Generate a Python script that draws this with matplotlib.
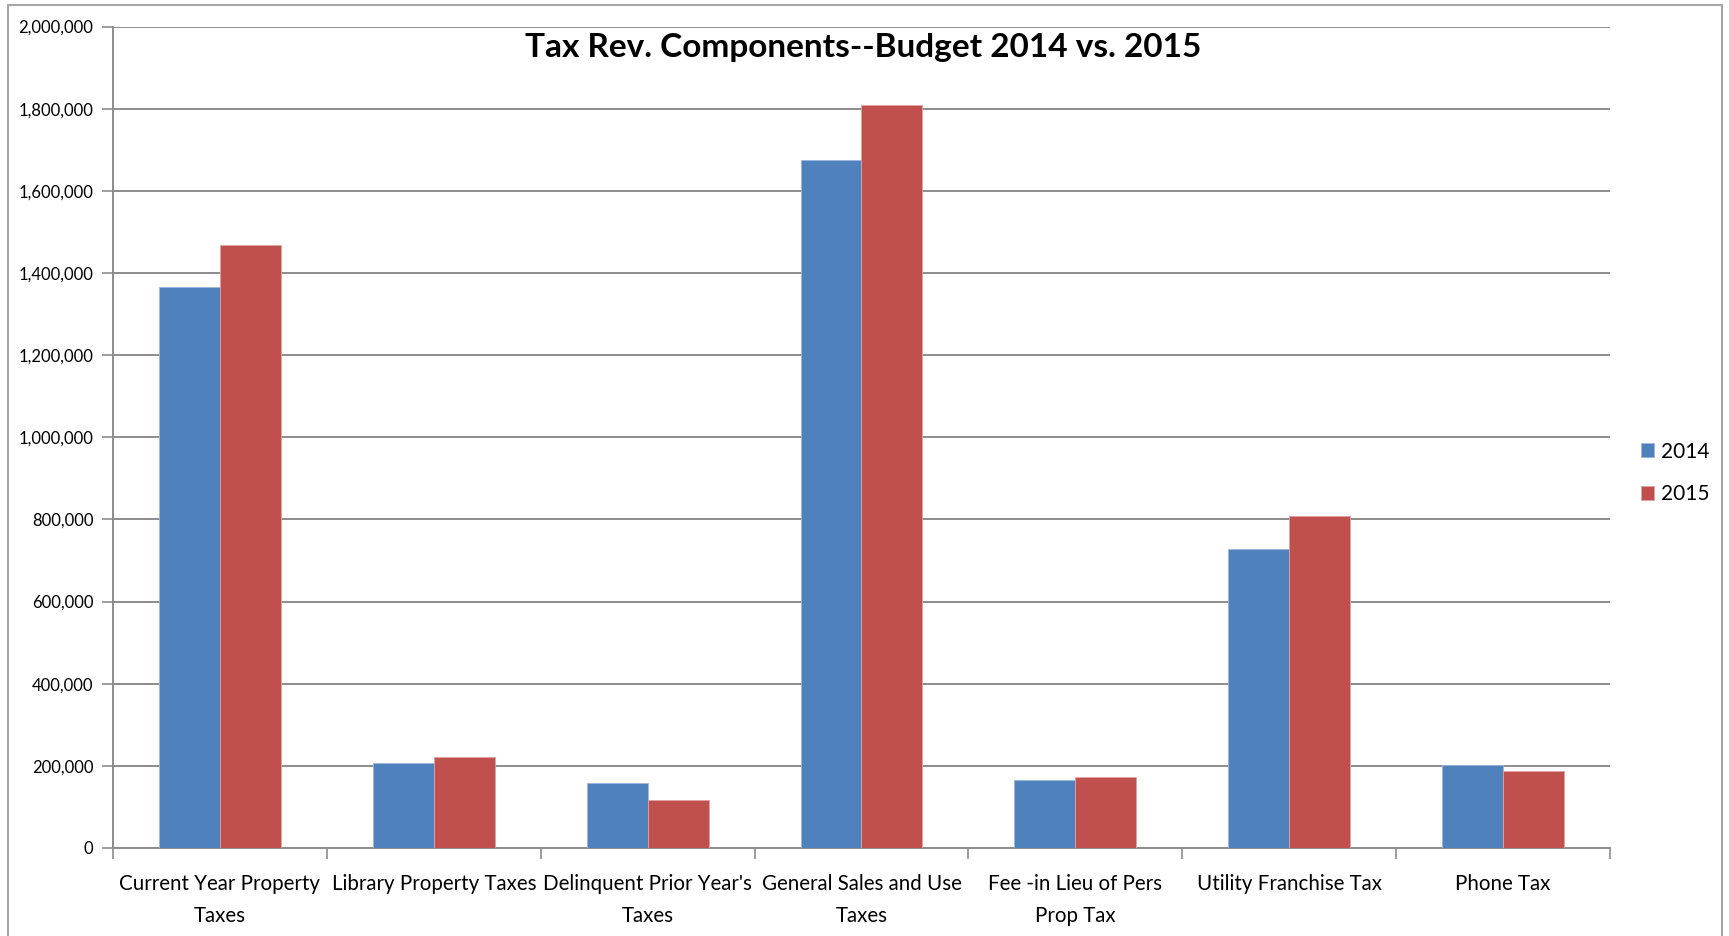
import matplotlib.pyplot as plt
import numpy as np
from matplotlib.patches import Rectangle
from matplotlib.ticker import FuncFormatter

plt.rcParams['font.family'] = ['Lato', 'DejaVu Sans']

categories = ["Current Year Property\nTaxes", "Library Property Taxes",
              "Delinquent Prior Year's\nTaxes", "General Sales and Use\nTaxes",
              "Fee -in Lieu of Pers\nProp Tax", "Utility Franchise Tax", "Phone Tax"]
budget_2014 = [1366000, 206000, 158000, 1675000, 166000, 728000, 202000]
budget_2015 = [1468000, 221000, 116000, 1809000, 172000, 809000, 187000]

fig = plt.figure(figsize=(17.29, 9.36), dpi=100)
ax = fig.add_axes([113/1729, 1 - 848/936, (1610-113)/1729, (848-26.5)/936])

x = np.arange(len(categories))
w = 0.285
ax.bar(x - w/2, budget_2014, w, color='#4F81BD', edgecolor='#9DB7DB', linewidth=0.6, label='2014', zorder=3)
ax.bar(x + w/2, budget_2015, w, color='#C0504D', edgecolor='#E2A3A1', linewidth=0.6, label='2015', zorder=3)

ax.set_xlim(-0.5, len(categories) - 0.5)
ax.set_ylim(0, 2000000)
ax.set_yticks(np.arange(0, 2000001, 200000))
ax.yaxis.set_major_formatter(FuncFormatter(lambda v, p: f"{int(v):,}"))
ax.grid(axis='y', color='#8C8C8C', linewidth=1.4, zorder=0)

ax.set_xticks(x)
ax.set_xticklabels(categories, fontsize=14.8, linespacing=1.75)
ax.set_xticks(np.arange(-0.5, len(categories)), minor=True)
ax.tick_params(axis='x', which='major', length=0, pad=19)
ax.tick_params(axis='x', which='minor', length=8, width=1.2, color='#8C8C8C', direction='out')
ax.tick_params(axis='y', length=8, width=1.2, color='#8C8C8C', labelsize=12, pad=6)

for s in ['top', 'right']:
    ax.spines[s].set_visible(False)
for s in ['left', 'bottom']:
    ax.spines[s].set_color('#8C8C8C')
    ax.spines[s].set_linewidth(1.4)

fig.text(863/1729, 1 - 48/936, "Tax Rev. Components--Budget 2014 vs. 2015",
         fontsize=24, fontweight='bold', ha='center', va='center')

fig.legend(loc='center left', bbox_to_anchor=(1622/1729, 1 - 473/936), frameon=False,
           fontsize=15, handlelength=0.65, handleheight=0.65, handletextpad=0.3, labelspacing=1.1)

fig.patches.append(Rectangle((8/1729, -0.05), (1722-8)/1729, 1.05 - 5/936,
                             transform=fig.transFigure, fill=False,
                             edgecolor='#A6A6A6', linewidth=1.5))

fig.savefig('out.png', dpi=100)
